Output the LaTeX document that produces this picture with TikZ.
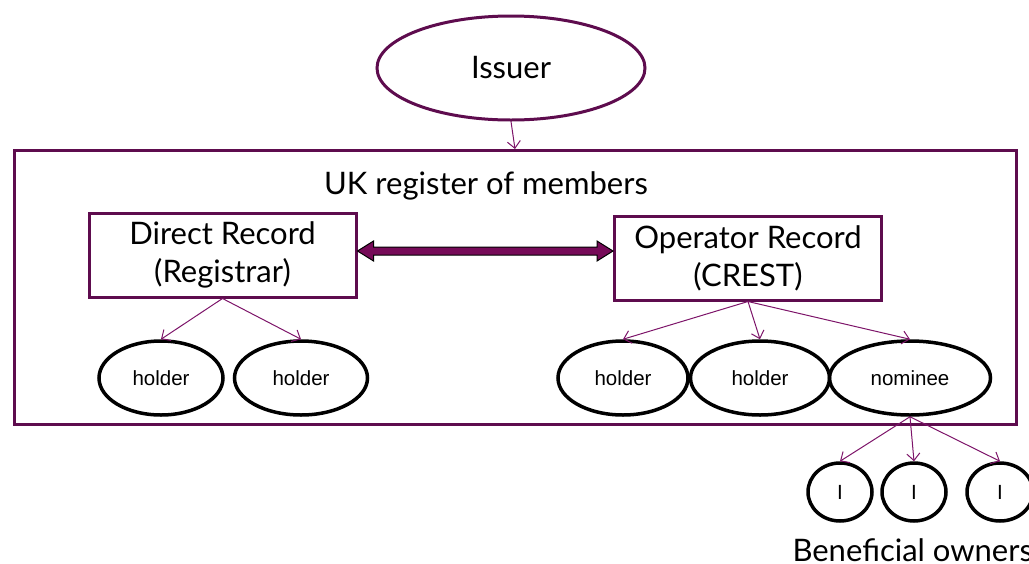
\documentclass[tikz,border=0pt]{standalone}
\usepackage{fontspec}
\setmainfont{Lato}
\newfontfamily\smallfont{Liberation Sans}
\usetikzlibrary{arrows.meta,calc,shapes.geometric}
\definecolor{boxpurple}{RGB}{94,12,78}
\definecolor{linepurple}{RGB}{125,20,105}
\definecolor{arrowfill}{RGB}{118,10,88}
\begin{document}
\begin{tikzpicture}[
  x=1pt, y=-1pt,
  recbox/.style={rectangle, draw=boxpurple, line width=3pt, minimum width=267pt, minimum height=84pt, align=center, font=\fontsize{31}{38}\selectfont},
  holdernode/.style={ellipse, draw=black, line width=3.5pt, inner sep=0pt, minimum width=128pt, minimum height=74pt, font=\smallfont\fontsize{20.5}{24}\selectfont},
  ownernode/.style={ellipse, draw=black, line width=3.5pt, inner sep=0pt, minimum width=64pt, minimum height=58pt, font=\smallfont\fontsize{20.5}{24}\selectfont},
  thinarrow/.style={->, >={Straight Barb[length=7pt,width=13pt]}, draw=linepurple, line width=1pt}
]
\useasboundingbox (0,0) rectangle (1029,563);
\clip (0,0) rectangle (1029,563);

% Issuer and register
\node[ellipse, draw=boxpurple, line width=3pt, minimum width=268pt, minimum height=104pt, font=\fontsize{31}{36}\selectfont] (issuer) at (511,68) {Issuer};
\node[rectangle, draw=boxpurple, line width=3pt, minimum width=1002pt, minimum height=274pt] (reg) at (515,287.5) {};
\node[font=\fontsize{31}{36}\selectfont] (regtitle) at (486,186) {UK register of members};

% Records
\node[recbox] (direct) at (222.5,255) {Direct Record\\(Registrar)};
\node[recbox] (operator) at (748,258) {Operator Record\\(CREST)};

% Holders
\node[holdernode, minimum width=124pt] (h1) at (161,378) {holder};
\node[holdernode, minimum width=133pt] (h2) at (301,378) {holder};
\node[holdernode, minimum width=130pt] (h3) at (623,378) {holder};
\node[holdernode, minimum width=139pt] (h4) at (760,378) {holder};
\node[holdernode, minimum width=161pt] (nominee) at (910,378) {nominee};

% Beneficial owners
\node[ownernode] (b1) at (840,492) {I};
\node[ownernode] (b2) at (914,492) {I};
\node[ownernode, minimum width=66pt] (b3) at (1000,492) {I};
\node[font=\fontsize{31}{36}\selectfont, anchor=base west] (bolabel) at (789,561) {Beneficial owners};

% Arrows
\draw[thinarrow] (issuer.south) -- (reg.north);
\draw[thinarrow] (direct.south) -- (h1.north);
\draw[thinarrow] (direct.south) -- (h2.north);
\draw[thinarrow] (operator.south) -- (h3.north);
\draw[thinarrow] (operator.south) -- (h4.north);
\draw[thinarrow] (operator.south) -- (nominee.north);
\draw[thinarrow] (nominee.south) -- (b1.north);
\draw[thinarrow] (nominee.south) -- (b2.north);
\draw[thinarrow] (nominee.south) -- (b3.north);

% Double arrow between records
\coordinate (al) at (direct.east |- 0,251);
\coordinate (ar) at (operator.west |- 0,251);
\draw[fill=arrowfill, draw=black, line width=1pt, line join=miter]
  (al) -- ++(16,-10) -- ++(0,6) -- ($(ar)+(-16,-4)$) -- ++(0,-6) -- (ar)
  -- ++(-16,10) -- ++(0,-6) -- ($(al)+(16,4)$) -- ++(0,6) -- cycle;

\end{tikzpicture}
\end{document}
